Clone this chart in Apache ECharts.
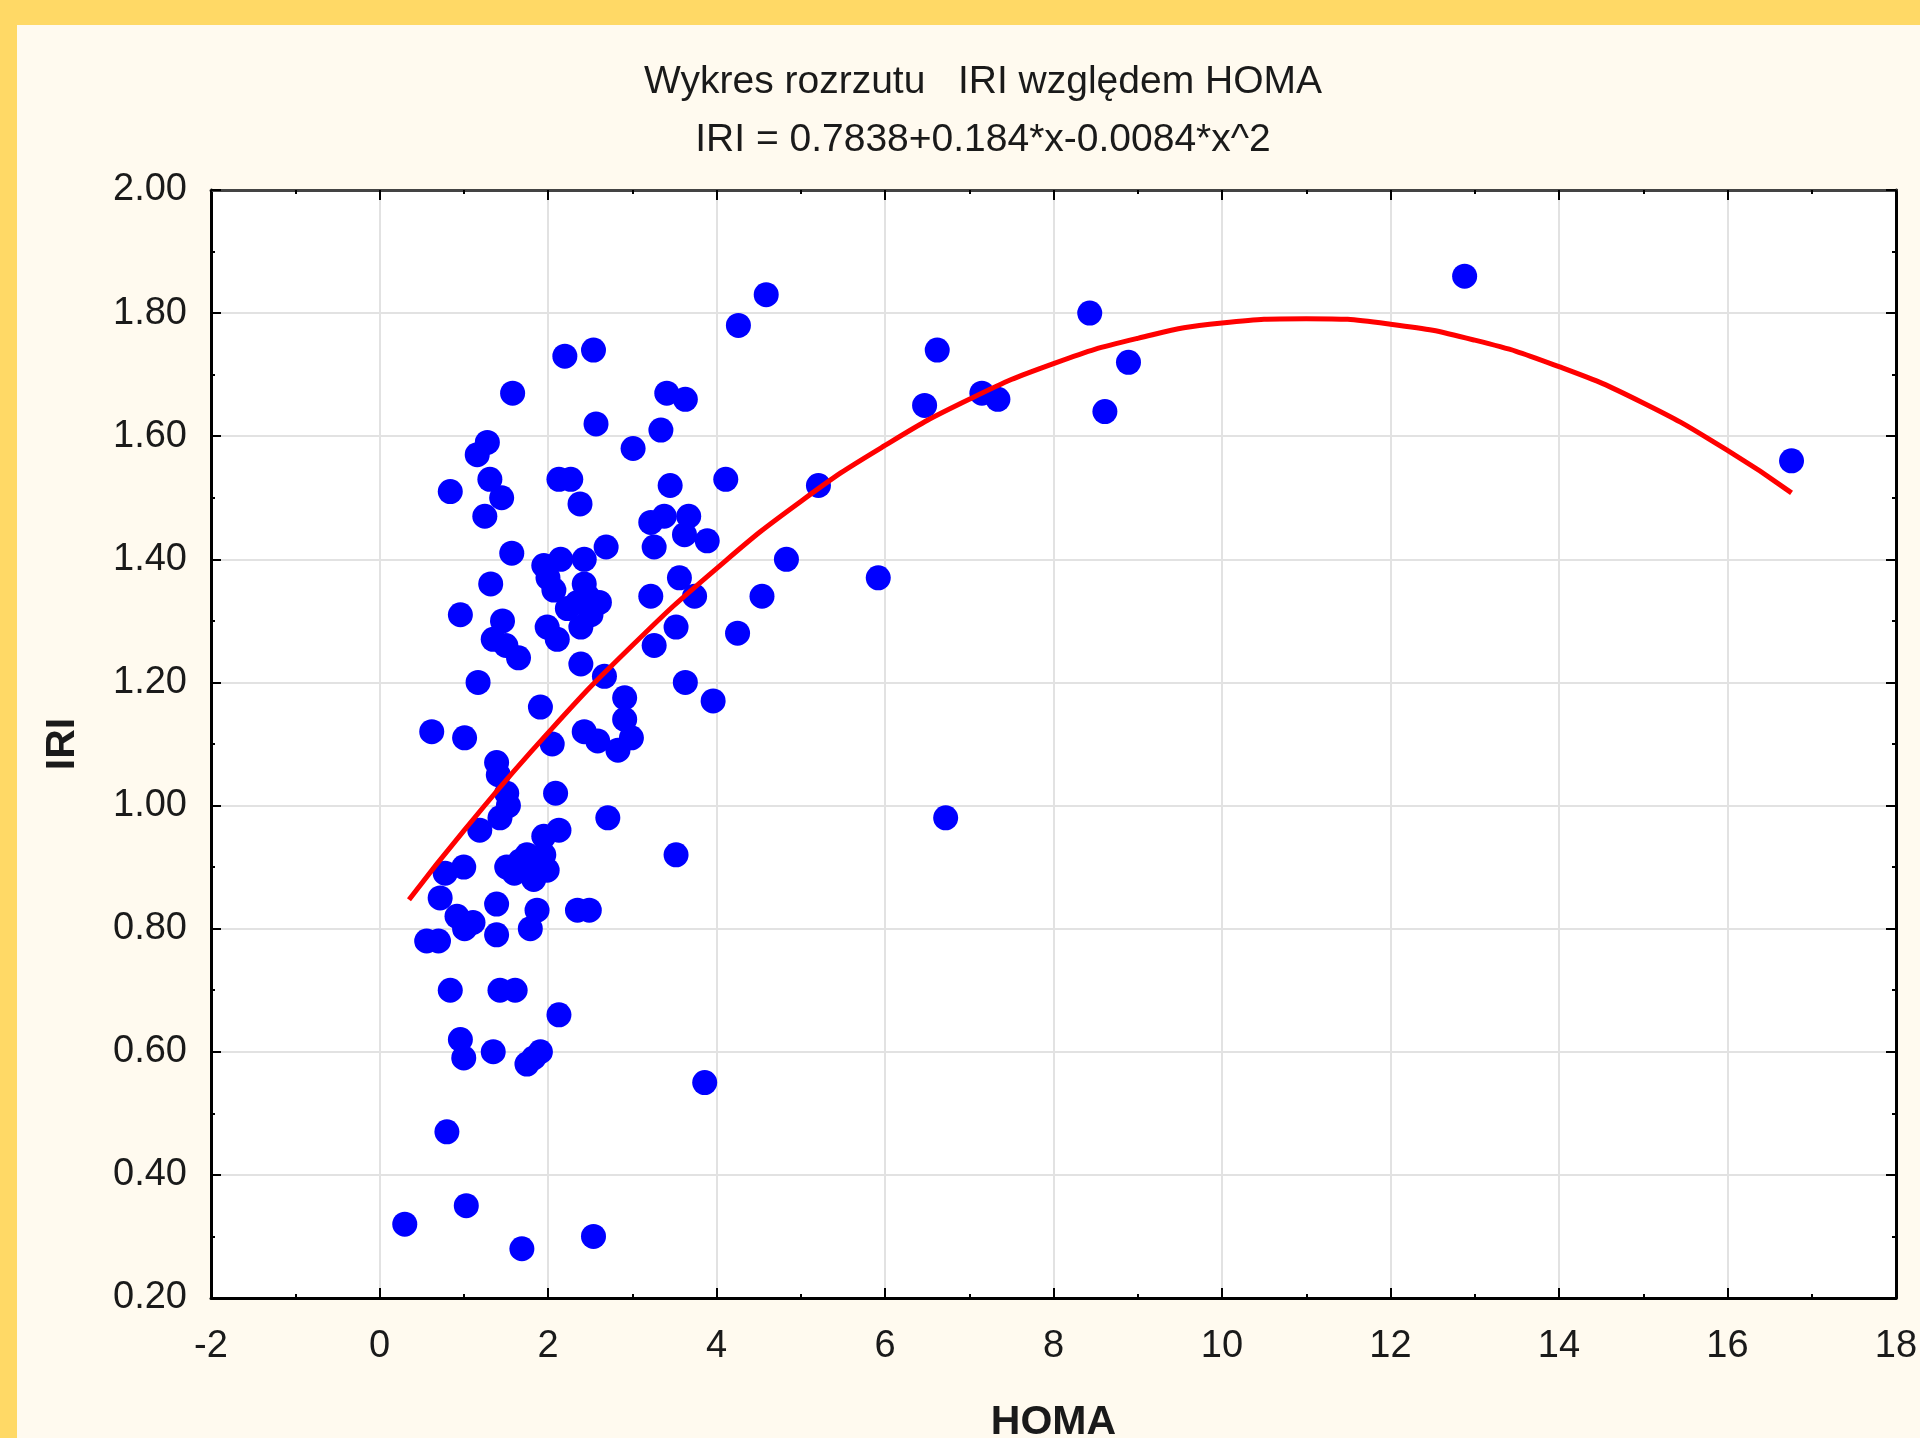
<!DOCTYPE html>
<html><head><meta charset="utf-8">
<script src="https://cdn.jsdelivr.net/npm/echarts@6/dist/echarts.min.js"></script>
<style>
html,body{margin:0;padding:0;background:#FFD966;width:1920px;height:1438px;overflow:hidden;}
#chart{position:absolute;left:17px;top:25px;width:1903px;height:1413px;background:#FFFAEF;}
</style></head><body><div id="chart"></div>
<script>
const titleText = 'Wykres rozrzutu   IRI względem HOMA';
const subtitleText = 'IRI = 0.7838+0.184*x-0.0084*x^2';
const xAxisName = 'HOMA';
const yAxisName = 'IRI';

const homa = [
  4.59, 4.26, 2.20, 2.54, 1.58, 3.41, 3.63, 2.57, 3.34, 3.01,
  1.28, 1.16, 1.31, 1.45, 0.84, 1.25, 2.13, 2.27, 2.38, 3.45,
  4.11, 5.21, 3.22, 3.38, 3.67, 3.89, 3.26, 3.62, 1.57, 2.69,
  6.62, 8.43, 8.89, 8.61, 6.47, 7.15, 7.34, 12.88, 16.76, 5.92,
  4.83, 4.54, 4.25, 6.72,
  1.95, 2.15, 2.43, 2.00, 2.07, 2.43, 2.61, 2.35, 2.23, 1.99, 2.11, 2.39, 2.51, 2.47,
  1.32, 0.96, 1.46, 1.35, 1.50, 1.65, 3.56, 3.22, 3.74, 3.52, 3.26,
  1.17, 2.39, 2.67, 3.63, 3.96, 1.91, 2.91, 2.91, 2.99, 2.83, 2.59, 2.43,
  0.62, 1.01, 2.05, 1.39, 1.41, 1.51, 1.53, 1.43, 1.19, 2.09, 2.71, 2.13, 1.95,
  1.67, 1.87, 1.51, 1.83, 1.99, 1.75, 1.60, 1.95, 3.52, 1.00, 0.78,
  0.72, 0.92, 1.11, 1.01, 0.56, 0.70, 1.39, 1.39, 1.87, 1.79, 2.35, 2.49,
  0.84, 1.43, 1.61, 2.13, 0.96, 1.00, 1.35, 1.75, 1.91, 1.83, 3.86,
  0.80, 0.30, 1.03, 1.69, 2.54
];
const iri = [
  1.83, 1.78, 1.73, 1.74, 1.67, 1.67, 1.66, 1.62, 1.61, 1.58,
  1.59, 1.57, 1.53, 1.50, 1.51, 1.47, 1.53, 1.53, 1.49, 1.52,
  1.53, 1.52, 1.46, 1.47, 1.47, 1.43, 1.42, 1.44, 1.41, 1.42,
  1.74, 1.80, 1.72, 1.64, 1.65, 1.67, 1.66, 1.86, 1.56, 1.37,
  1.40, 1.34, 1.28, 0.98,
  1.39, 1.40, 1.40, 1.37, 1.35, 1.36, 1.33, 1.33, 1.32, 1.29, 1.27, 1.29, 1.31, 1.34,
  1.36, 1.31, 1.30, 1.27, 1.26, 1.24, 1.37, 1.34, 1.34, 1.29, 1.26,
  1.20, 1.23, 1.21, 1.20, 1.17, 1.16, 1.175, 1.14, 1.11, 1.09, 1.105, 1.12,
  1.12, 1.11, 1.10, 1.07, 1.05, 1.02, 1.00, 0.98, 0.96, 1.02, 0.98, 0.96, 0.95,
  0.91, 0.90, 0.90, 0.88, 0.895, 0.92, 0.89, 0.92, 0.92, 0.90, 0.89,
  0.85, 0.82, 0.81, 0.80, 0.78, 0.78, 0.84, 0.79, 0.83, 0.80, 0.83, 0.83,
  0.70, 0.70, 0.70, 0.66, 0.62, 0.59, 0.60, 0.58, 0.60, 0.59, 0.55,
  0.47, 0.32, 0.35, 0.28, 0.30
];

// fitted curve
const fitX = [0.35, 1, 2, 3, 4, 5, 6, 7, 8, 9, 10, 11, 12, 13, 14, 15, 16, 16.76];
const fitY = [0.847, 0.959, 1.118, 1.260, 1.385, 1.494, 1.585, 1.660, 1.718, 1.759, 1.784, 1.791, 1.782, 1.756, 1.713, 1.654, 1.577, 1.508];

const xTicks = {min: -2, max: 18, interval: 2};
const yTicks = {min: 0.2, max: 2.0, interval: 0.2};

const FONT = '"Liberation Sans", Arial, sans-serif';
const chart = echarts.init(document.getElementById('chart'));

const tickCommon = {
  axisTick: {show: true, inside: true, length: 10, lineStyle: {color: '#000', width: 2}},
  minorTick: {show: true, splitNumber: 2, length: 4, lineStyle: {color: '#000', width: 2}}
};

chart.setOption({
  animation: false,
  backgroundColor: '#FFFAEF',
  title: [
    {text: titleText, left: 961, top: 33, textAlign: 'center',
     textStyle: {fontFamily: FONT, fontSize: 39, fontWeight: 'normal', color: '#1a1a1a'}},
    {text: subtitleText, left: 961, top: 91, textAlign: 'center',
     textStyle: {fontFamily: FONT, fontSize: 39, fontWeight: 'normal', color: '#1a1a1a'}}
  ],
  grid: {left: 194, right: 24, top: 165, bottom: 140, show: true, backgroundColor: '#ffffff',
         borderWidth: 0, containLabel: false, outerBoundsMode: 'none'},
  xAxis: [
    Object.assign({
      type: 'value', position: 'bottom', min: xTicks.min, max: xTicks.max, interval: xTicks.interval,
      axisLine: {show: true, onZero: false, lineStyle: {color: '#000', width: 3}},
      axisLabel: {fontFamily: FONT, fontSize: 38, color: '#1a1a1a', margin: 30, showMinLabel: true, showMaxLabel: true},
      splitLine: {show: true, lineStyle: {color: '#e2e2e2', width: 2}},
      name: xAxisName, nameLocation: 'middle', nameGap: 104,
      nameTextStyle: {fontFamily: FONT, fontSize: 41, fontWeight: 'bold', color: '#1a1a1a'}
    }, tickCommon),
    Object.assign({
      type: 'value', position: 'top', min: xTicks.min, max: xTicks.max, interval: xTicks.interval,
      axisLine: {show: true, onZero: false, lineStyle: {color: '#444', width: 3}},
      axisLabel: {show: false}, splitLine: {show: false}
    }, tickCommon)
  ],
  yAxis: [
    Object.assign({
      type: 'value', position: 'left', min: yTicks.min, max: yTicks.max, interval: yTicks.interval,
      axisLine: {show: true, onZero: false, lineStyle: {color: '#000', width: 3}},
      axisLabel: {fontFamily: FONT, fontSize: 38, color: '#1a1a1a', margin: 24,
                  formatter: v => v.toFixed(2), showMinLabel: true, showMaxLabel: true},
      splitLine: {show: true, lineStyle: {color: '#e2e2e2', width: 2}},
      name: yAxisName, nameLocation: 'middle', nameGap: 128,
      nameTextStyle: {fontFamily: FONT, fontSize: 41, fontWeight: 'bold', color: '#1a1a1a'}
    }, tickCommon),
    Object.assign({
      type: 'value', position: 'right', min: yTicks.min, max: yTicks.max, interval: yTicks.interval,
      axisLine: {show: true, onZero: false, lineStyle: {color: '#000', width: 3}},
      axisLabel: {show: false}, splitLine: {show: false}
    }, tickCommon)
  ],
  series: [
    {
      type: 'scatter', xAxisIndex: 0, yAxisIndex: 0,
      data: homa.map((x, i) => [x, iri[i]]),
      symbol: 'circle', symbolSize: 25,
      itemStyle: {color: '#0000FF', opacity: 1},
      z: 2
    },
    {
      type: 'line', xAxisIndex: 0, yAxisIndex: 0,
      data: fitX.map((x, i) => [x, fitY[i]]),
      smooth: true, showSymbol: false, symbol: 'none',
      lineStyle: {color: '#FF0000', width: 5},
      z: 3
    }
  ]
});
</script></body></html>
